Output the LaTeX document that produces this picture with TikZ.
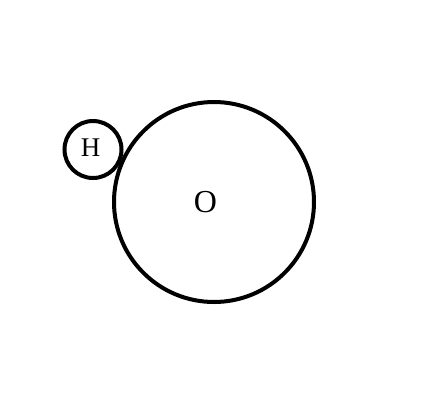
\documentclass[tikz,border=0pt]{standalone}
\usepackage{fontspec}
\setmainfont{Liberation Serif}
\begin{document}
\begin{tikzpicture}[x=1pt,y=-1pt,
  atom/.style={circle,draw=black,line width=4pt,inner sep=0pt}]
\useasboundingbox[fill=white] (0,0) rectangle (447,413);
\node[atom,minimum size=200pt] (O) at (214,202) {};
\node[atom,minimum size=57pt] (H) at (93,149.5) {};
\node[inner sep=0pt,font=\fontsize{32}{32}\selectfont] (Ol) at (205.5,202) {O};
\node[inner sep=0pt,font=\fontsize{27}{27}\selectfont] (Hl) at (90.5,147.5) {H};
\end{tikzpicture}
\end{document}
